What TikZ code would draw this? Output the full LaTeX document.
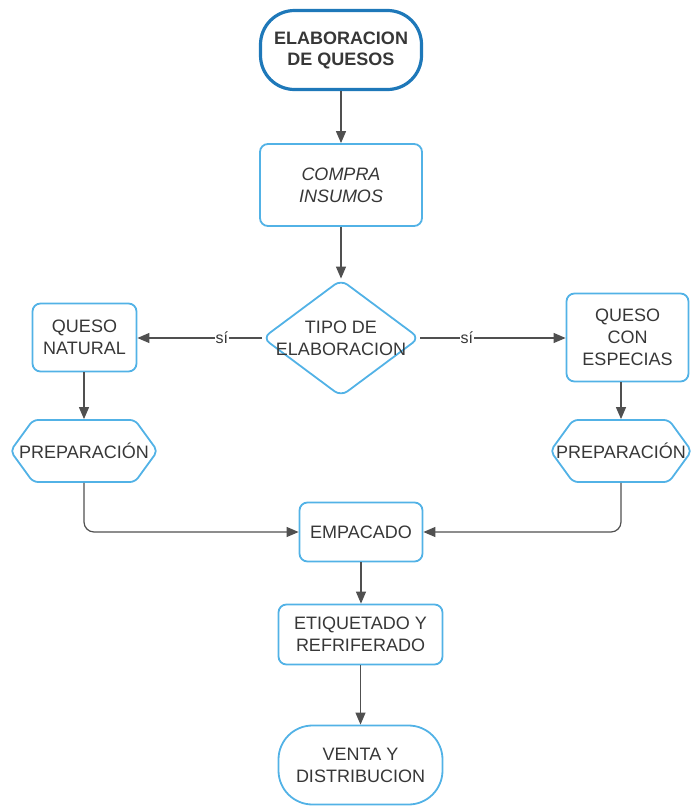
\documentclass[tikz,border=0pt]{standalone}
\usepackage{fontspec}
\setmainfont{Liberation Sans}
\usetikzlibrary{arrows.meta,shapes.geometric,shapes.symbols}
\definecolor{boxblue}{RGB}{82,178,230}
\definecolor{startblue}{RGB}{30,120,185}
\definecolor{linegray}{RGB}{80,80,80}
\definecolor{textgray}{RGB}{55,55,55}

\begin{document}
\begin{tikzpicture}[x=1pt, y=-1pt,
  every node/.style={font=\fontsize{18}{22}\selectfont, text=textgray, align=center},
  terminal/.style={draw=startblue, line width=3.2pt, rounded corners=34pt, minimum width=161pt, minimum height=79pt, inner sep=0pt},
  endbox/.style={draw=boxblue, line width=1.8pt, rounded corners=34pt, inner sep=0pt},
  procbox/.style={draw=boxblue, line width=1.8pt, rounded corners=8pt, inner sep=0pt},
  decision/.style={diamond, draw=boxblue, line width=1.8pt, rounded corners=8pt, minimum width=157pt, minimum height=117pt, inner sep=0pt},
  prepbox/.style={signal, signal to=east and west, signal pointer angle=108, draw=boxblue, line width=1.8pt, rounded corners=5pt, minimum height=62pt, inner sep=0pt},
  conn/.style={draw=linegray, line width=1.2pt, -{Triangle[length=12pt,width=10pt]}},
  sino/.style={fill=white, inner sep=1pt, font=\fontsize{16}{18}\selectfont}]
\useasboundingbox (0,0) rectangle (691,806);
\node[terminal, font=\fontsize{18}{21}\selectfont\bfseries] (start) at (341,50) {ELABORACION\\DE QUESOS};
\node[procbox, minimum width=162pt, minimum height=82pt, font=\fontsize{18}{22}\selectfont\itshape] (compra) at (341,185) {COMPRA\\INSUMOS};
\node[decision] (tipo) at (341,338) {};
\node (tipotxt) at (tipo) {TIPO DE\\ELABORACION};
\node[procbox, minimum width=104pt, minimum height=68pt] (natural) at (84.5,337.5) {QUESO\\NATURAL};
\node[procbox, minimum width=122pt, minimum height=88pt] (especias) at (627.5,337.5) {QUESO\\CON\\ESPECIAS};
\node[prepbox, minimum width=147pt] (prepL) at (84,451) {};
\node (prepLtxt) at (prepL) {PREPARACIÓN};
\node[prepbox, minimum width=141pt] (prepR) at (621,451) {};
\node (prepRtxt) at (prepR) {PREPARACIÓN};
\node[procbox, minimum width=123pt, minimum height=59pt] (empacado) at (361,532) {EMPACADO};
\node[procbox, minimum width=164pt, minimum height=60pt] (etiquetado) at (360.5,634.5) {ETIQUETADO Y\\REFRIFERADO};
\node[endbox, minimum width=164pt, minimum height=79pt] (venta) at (360.5,765) {VENTA Y\\DISTRIBUCION};
\draw[conn] (start) -- (compra);
\draw[conn] (compra) -- (tipo);
\draw[conn] (tipo.west) -- node[sino, pos=0.32] (siL) {sí} (tipo.west -| natural.east);
\draw[conn] (tipo.east) -- node[sino, pos=0.32] (siR) {sí} (tipo.east -| especias.west);
\draw[conn] (natural.south -| prepL.north) -- (prepL.north);
\draw[conn] (prepR.north |- especias.south) -- (prepR.north);
\draw[conn, rounded corners=10pt] (prepL.south) |- (empacado.west);
\draw[conn, rounded corners=10pt] (prepR.south) |- (empacado.east);
\draw[conn] (empacado.south) -- (empacado.south |- etiquetado.north);
\draw[conn] (etiquetado.south -| venta.north) -- (venta.north);
\end{tikzpicture}
\end{document}
